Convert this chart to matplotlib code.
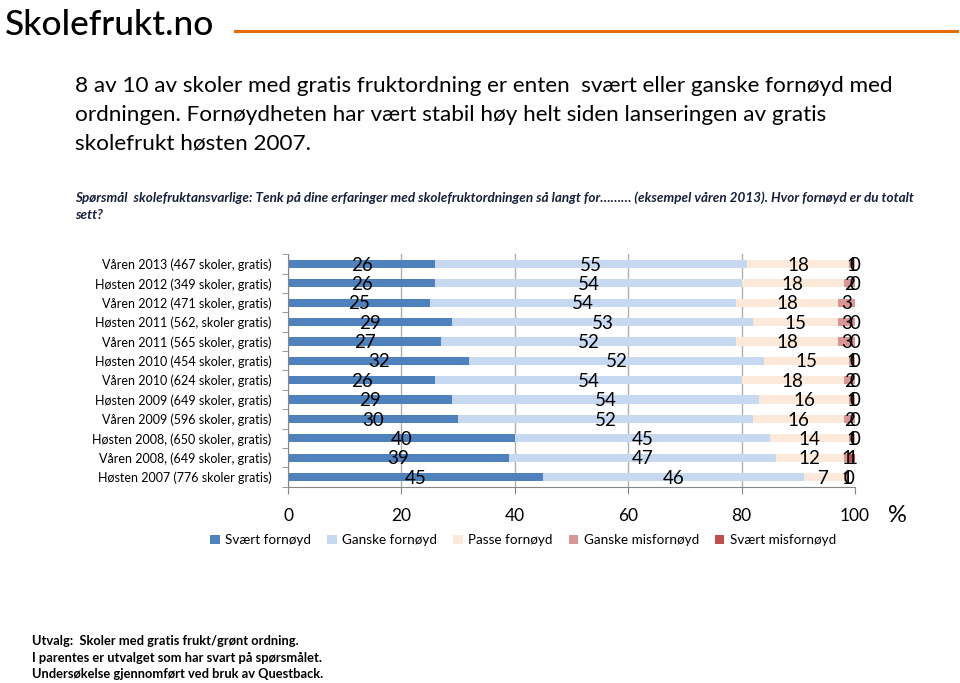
import numpy as np
import matplotlib
matplotlib.use("Agg")
import matplotlib.pyplot as plt
from matplotlib.lines import Line2D

plt.rcParams['font.family'] = ['Lato', 'DejaVu Sans']

categories = [
    "Våren 2013 (467 skoler, gratis)",
    "Høsten 2012 (349 skoler, gratis)",
    "Våren 2012 (471 skoler, gratis)",
    "Høsten 2011 (562, skoler gratis)",
    "Våren 2011 (565 skoler, gratis)",
    "Høsten 2010 (454 skoler, gratis)",
    "Våren 2010 (624 skoler, gratis)",
    "Høsten 2009 (649 skoler, gratis)",
    "Våren 2009 (596 skoler, gratis)",
    "Høsten 2008, (650 skoler, gratis)",
    "Våren 2008, (649 skoler, gratis)",
    "Høsten 2007 (776 skoler gratis)",
]
series_names = ["Svært fornøyd", "Ganske fornøyd", "Passe fornøyd",
                "Ganske misfornøyd", "Svært misfornøyd"]
svaert_fornoyd = [26, 26, 25, 29, 27, 32, 26, 29, 30, 40, 39, 45]
ganske_fornoyd = [55, 54, 54, 53, 52, 52, 54, 54, 52, 45, 47, 46]
passe_fornoyd = [18, 18, 18, 15, 18, 15, 18, 16, 16, 14, 12, 7]
ganske_misfornoyd = [1, 2, 3, 3, 3, 1, 2, 1, 2, 1, 1, 1]
svaert_misfornoyd = [0, 0, np.nan, 0, 0, 0, 0, 0, 0, 0, 1, 0]
x_ticks = [0, 20, 40, 60, 80, 100]

colors = ["#4F81BD", "#C6D9F1", "#FDE9D9", "#D99694", "#C0504D"]
series = [svaert_fornoyd, ganske_fornoyd, passe_fornoyd,
          ganske_misfornoyd, svaert_misfornoyd]

fig = plt.figure(figsize=(9.6, 6.83), dpi=100)
ax = fig.add_axes([0.3, 0.2874, 0.5906, 0.3403])

y = np.arange(len(categories))
left = np.zeros(len(categories))
for name, vals, col in zip(series_names, series, colors):
    v = np.array(vals, dtype=float)
    vv = np.nan_to_num(v)
    ax.barh(y, vv, left=left, height=0.42, color=col, label=name, zorder=2)
    for yi, (l, val) in enumerate(zip(left, v)):
        if np.isnan(val):
            continue
        ax.text(l + val / 2, yi + 0.06, f"{int(val)}", ha="center", va="center",
                fontsize=13.5, color="black", zorder=3)
    left += vv

ax.set_ylim(len(categories) - 0.5, -0.5)
ax.set_xlim(0, 100)
ax.set_yticks(y)
ax.set_yticklabels(categories, fontsize=9.0)
ax.tick_params(axis="y", length=0, pad=12)
ax.set_yticks(np.arange(-0.5, len(categories) + 0.5, 1), minor=True)
ax.tick_params(axis="y", which="minor", length=4, color="#868686", direction="out")
ax.set_xticks(x_ticks)
ax.set_xticklabels([str(t) for t in x_ticks], fontsize=12.5)
ax.tick_params(axis="x", length=5, color="#868686", direction="out", pad=10)
ax.xaxis.grid(True, color="#B0B0B0", linewidth=1, zorder=0)
ax.set_axisbelow(True)
for s in ["top", "right"]:
    ax.spines[s].set_visible(False)
for s in ["left", "bottom"]:
    ax.spines[s].set_color("#868686")

fig.text(897 / 960, 1 - 516 / 683, "%", fontsize=17, ha="center", va="center")

fig.legend(loc="center", bbox_to_anchor=(0.545, 1 - 540 / 683), ncol=5,
           frameon=False, fontsize=9.7, handlelength=0.7, handleheight=0.7,
           handletextpad=0.4, columnspacing=1.2)

# header
fig.text(5 / 960, 1 - 25 / 683, "Skolefrukt.no", fontsize=25.5, fontweight="medium",
         ha="left", va="center", color="black")
fig.add_artist(Line2D([235 / 960, 957 / 960], [1 - 31 / 683, 1 - 31 / 683],
                      color="#E46C0A", linewidth=2.2))

title_lines = [
    "8 av 10 av skoler med gratis fruktordning er enten  svært eller ganske fornøyd med",
    "ordningen. Fornøydheten har vært stabil høy helt siden lanseringen av gratis",
    "skolefrukt høsten 2007.",
]
for i, line in enumerate(title_lines):
    fig.text(75 / 960, 1 - (86 + 29 * i) / 683, line, fontsize=16.2,
             ha="left", va="center", color="black")

sub_lines = [
    "Spørsmål  skolefruktansvarlige: Tenk på dine erfaringer med skolefruktordningen så langt for……… (eksempel våren 2013). Hvor fornøyd er du totalt",
    "sett?",
]
for i, line in enumerate(sub_lines):
    fig.text(75 / 960, 1 - (198 + 17 * i) / 683, line, fontsize=9.7,
             fontweight="bold", style="italic", ha="left", va="center",
             color="#17203A")

foot_lines = [
    "Utvalg:  Skoler med gratis frukt/grønt ordning.",
    "I parentes er utvalget som har svart på spørsmålet.",
    "Undersøkelse gjennomført ved bruk av Questback.",
]
for i, line in enumerate(foot_lines):
    fig.text(32 / 960, 1 - (641 + 16.5 * i) / 683, line, fontsize=9.3,
             fontweight="bold", ha="left", va="center", color="black")

fig.savefig("out.png", dpi=100)
